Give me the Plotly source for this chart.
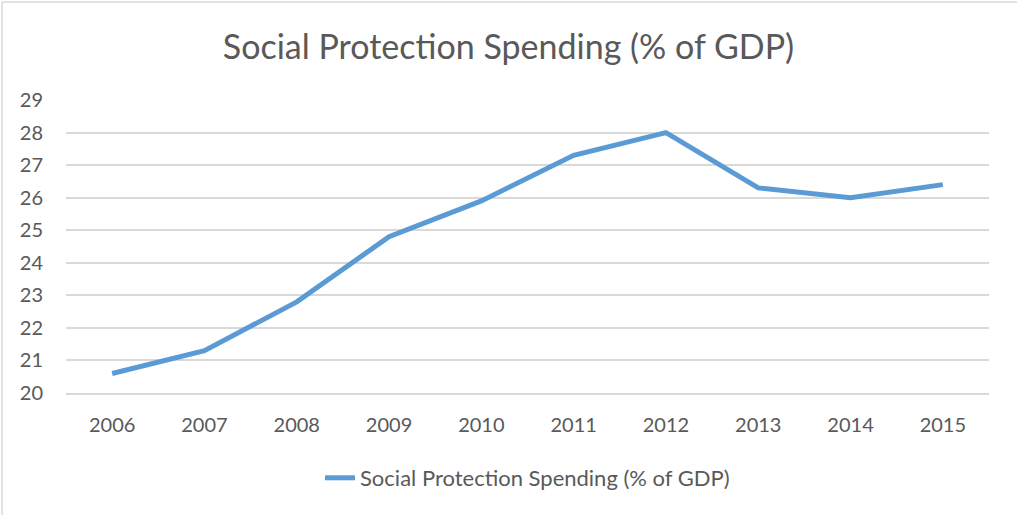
import plotly.graph_objects as go

years = ["2006", "2007", "2008", "2009", "2010", "2011", "2012", "2013", "2014", "2015"]
spending = [20.6, 21.3, 22.8, 24.8, 25.9, 27.3, 28.0, 26.3, 26.0, 26.4]
series_name = "Social Protection Spending (% of GDP)"
title_text = "Social Protection Spending (% of GDP)"
y_ticks = [20, 21, 22, 23, 24, 25, 26, 27, 28, 29]

W, H = 1017, 515
L, R, T, B = 66, 28, 100, 122
pw, ph = W - L - R, H - T - B

font = "Lato"
txt = "#595959"
grid = "#D9D9D9"

fig = go.Figure()
fig.add_trace(go.Scatter(
    x=years, y=spending, mode="lines", name=series_name,
    line=dict(color="#5B9BD5", width=5),
))

fig.update_layout(
    width=W, height=H,
    margin=dict(l=L, r=R, t=T, b=B),
    paper_bgcolor="white", plot_bgcolor="white",
    font=dict(family=font, color=txt, size=20),
    title=dict(text=title_text, x=0.5, xanchor="center",
               y=1 - 47 / H, yanchor="middle", yref="container",
               font=dict(size=34, color=txt, family=font)),
    showlegend=True,
    legend=dict(orientation="h", x=0.5, xanchor="center",
                y=(-(478 - (T + ph)) / ph), yanchor="middle",
                font=dict(size=22, color=txt)),
    xaxis=dict(type="category", showgrid=False, showline=True, linecolor=grid,
               linewidth=1.5, ticks="", tickfont=dict(size=20, color=txt),
               ticklabelstandoff=13, range=[-0.5, len(years) - 0.5]),
    yaxis=dict(range=[20, 29], tickvals=y_ticks, showgrid=True, gridcolor=grid,
               gridwidth=1.5, zeroline=False, showline=False, ticks="",
               tickfont=dict(size=20, color=txt), ticklabelstandoff=22),
    shapes=[
        dict(type="line", xref="paper", yref="paper",
             x0=(2 - L) / pw, x1=(W + 5 - L) / pw,
             y0=(T + ph - 2) / ph, y1=(T + ph - 2) / ph,
             line=dict(color="#D9D9D9", width=1.5)),
        dict(type="line", xref="paper", yref="paper",
             x0=(2 - L) / pw, x1=(2 - L) / pw,
             y0=(T + ph - 2) / ph, y1=-(B + 5) / ph,
             line=dict(color="#D9D9D9", width=1.5)),
    ],
)

fig.write_html("out.html", config={"displayModeBar": False},
               post_script="document.body.style.margin='0';")
